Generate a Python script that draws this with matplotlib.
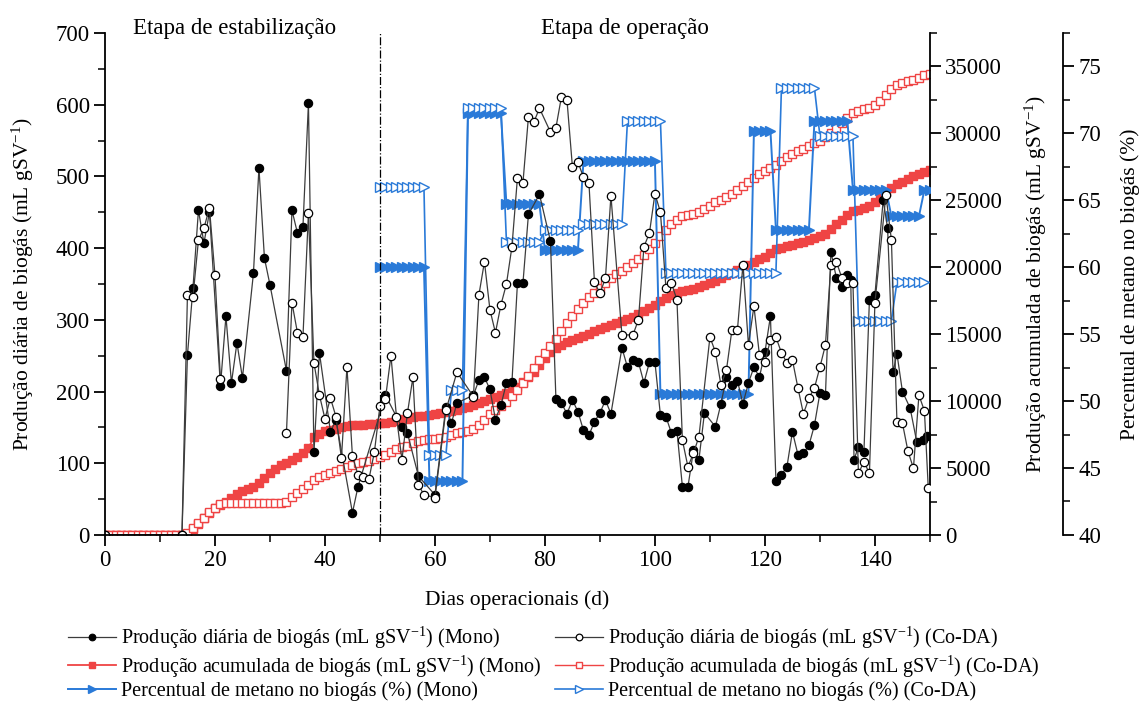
import matplotlib
matplotlib.use('Agg')
import matplotlib.pyplot as plt
import numpy as np
from matplotlib.ticker import MultipleLocator

plt.rcParams['font.family'] = ['Liberation Serif', 'DejaVu Serif']
plt.rcParams['mathtext.fontset'] = 'custom'
plt.rcParams['mathtext.rm'] = 'Liberation Serif'
plt.rcParams['mathtext.it'] = 'Liberation Serif:italic'
plt.rcParams['mathtext.default'] = 'regular'

# ---------------- data ----------------
# Daily biogas production, Mono (filled circles)
mono_daily_days = [0, 14, 15, 16, 17, 18, 19, 21, 22, 23, 24, 25, 27, 28, 29, 30,
                   33, 34, 35, 36, 37, 38, 39, 41, 42, 45, 46, 51, 54, 55, 57, 60,
                   62, 63, 64, 67, 68, 69, 70, 71, 72, 73, 74, 75, 76, 77, 79, 81,
                   82, 83, 84, 85, 86, 87, 88, 89, 90, 91, 92, 94, 95, 96, 97, 98,
                   99, 100, 101, 102, 103, 104, 105, 106, 107, 108, 109, 111, 112,
                   113, 114, 115, 116, 117, 118, 119, 120, 121, 122, 123, 124, 125,
                   126, 127, 128, 129, 130, 131, 132, 133, 134, 135, 135.6, 136.2,
                   137, 138, 139, 140, 141.5, 142.3, 143.3, 144, 145, 146.4, 147.6,
                   148.7, 149.5]
mono_daily = [0, 0, 251, 344, 453, 407, 450, 208, 305, 212, 268, 219, 365, 512, 386, 349,
              229, 453, 421, 430, 602, 115, 254, 144, 160, 31, 67, 195, 150, 142, 82, 56,
              179, 156, 184, 195, 216, 220, 203, 161, 181, 212, 213, 351, 351, 447, 475, 410,
              189, 184, 169, 188, 172, 146, 139, 158, 170, 188, 169, 261, 234, 244, 241, 212,
              241, 241, 167, 165, 142, 145, 67, 67, 118, 105, 170, 151, 183,
              220, 209, 215, 183, 212, 234, 220, 255, 305, 75, 84, 95, 144,
              112, 114, 125, 153, 198, 195, 395, 358, 346, 363, 356, 105,
              123, 116, 328, 335, 467, 428, 227, 253, 200, 177, 130,
              132, 138]

# Daily biogas production, Co-DA (open circles); NaN = no measurement
coda_daily_days = [0, 14, 15, 16, 17, 18, 19, 20, 21, 27, 33, 34, 35, 36, 37, 38, 39, 40,
                   41, 42, 43, 44, 45, 46, 47, 48, 49, 50, 51, 52, 53, 54, 55, 56, 57,
                   58, 60, 62, 64, 67, 68, 69, 70, 71, 72, 73, 74, 75, 76, 77, 78, 79,
                   81, 82, 83, 84, 85, 86, 87, 88, 89, 90, 91, 92, 94, 96, 97, 98, 99,
                   100, 101, 102, 103, 104, 105, 106, 107, 108, 110, 111, 112, 113, 114,
                   115, 116, 117, 118, 119, 120, 121, 122, 123, 124, 125, 126, 127, 128,
                   129, 130, 131, 132, 133, 134, 135, 136, 137, 138, 139, 140, 142, 143,
                   144, 145, 146, 147, 148, 149, 149.7]
coda_daily = [0, 0, 335, 332, 411, 428, 456, 363, 217, np.nan, 142, 324, 282, 276, 449, 240, 195, 162,
              191, 165, 107, 234, 110, 84, 81, 78, 116, 180, 190, 250, 165, 105, 170, 220, 70,
              56, 52, 174, 227, 193, 335, 381, 314, 282, 321, 350, 402, 498, 491, 583, 576, 595,
              562, 568, 611, 607, 513, 520, 499, 491, 353, 337, 358, 473, 279, 279, 300, 402, 421,
              476, 450, 344, 351, 328, 132, 95, 114, 137, 276, 255, 209, 230, 286,
              286, 377, 265, 319, 251, 241, 272, 276, 254, 240, 244, 205, 169, 191,
              205, 234, 265, 377, 381, 358, 351, 351, 86, 102, 86, 324, 474, 411,
              158, 156, 117, 93, 195, 173, 65]

# Cumulative biogas production (one value per day, 0..150)
cum_days = np.arange(0, 151)
cum_mono = [0, 0, 0, 0, 0, 0, 0, 0, 0, 0, 0, 0, 0, 0, 0,
            100, 450, 850, 1250, 1650, 2000, 2250, 2500, 2750, 3050,
            3300, 3450, 3600, 3900, 4250, 4600, 4950, 5200, 5400, 5600,
            5850, 6150, 6500, 7300, 7550, 7750, 7850, 7950, 8050, 8120,
            8180, 8220, 8250, 8270, 8300, 8330, 8370, 8450, 8550, 8650,
            8700, 8780, 8850, 8900, 8960, 9020, 9080, 9150, 9250, 9350,
            9450, 9550, 9700, 9850, 10000, 10150, 10300, 10450, 10600, 10750,
            11050, 11400, 11800, 12200, 12700, 13200, 13700, 14000, 14200, 14400,
            14550, 14750, 14900, 15050, 15200, 15400, 15550, 15700, 15850, 16000,
            16150, 16300, 16500, 16700, 16950, 17200, 17500, 17700, 17900, 18050,
            18200, 18300, 18400, 18550, 18700, 18850, 19000, 19200, 19400, 19600,
            19800, 20000, 20200, 20400, 20600, 20800, 21050, 21350, 21450, 21550,
            21650, 21800, 21900, 22000, 22150, 22300, 22500, 22850, 23200, 23550,
            23900, 24200, 24300, 24400, 24550, 24850, 25200, 25600, 25950, 26200,
            26400, 26600, 26800, 26950, 27100, 27250]
cum_coda = [0, 0, 0, 0, 0, 0, 0, 0, 0, 0, 0, 0, 0, 0, 0,
            150, 500, 900, 1300, 1700, 2050, 2300, 2400, 2400, 2400,
            2400, 2400, 2400, 2400, 2400, 2400, 2400, 2400, 2500, 2800,
            3100, 3400, 3700, 4100, 4300, 4500, 4650, 4800, 4950, 5100,
            5250, 5350, 5450, 5550, 5650, 5800, 6000, 6200, 6400, 6550,
            6650, 6850, 7000, 7100, 7150, 7200, 7280, 7350, 7500, 7600,
            7700, 7800, 7950, 8200, 8600, 9000, 9300, 9600, 9950, 10350,
            10850, 11350, 11900, 12450, 13050, 13600, 14100, 14650, 15250, 15850,
            16350, 16850, 17300, 17750, 18100, 18450, 18800, 19200, 19500, 19750,
            20000, 20300, 20600, 20950, 21350, 21800, 22350, 22800, 23200, 23550,
            23800, 23900, 24000, 24150, 24350, 24600, 24850, 25050, 25250, 25500,
            25800, 26100, 26400, 26700, 26950, 27200, 27400, 27650, 27950, 28200,
            28450, 28650, 28850, 29050, 29250, 29450, 29700, 30000, 30400, 30800,
            31150, 31500, 31700, 31800, 31900, 32100, 32450, 32850, 33300, 33600,
            33750, 33900, 34000, 34150, 34350, 34450]

# Methane content (%)
ch4_mono_days = np.arange(50, 151)
ch4_mono = [60.0, 60.0, 60.0, 60.0, 60.0, 60.0, 60.0, 60.0, 60.0,
            44.0, 44.0, 44.0, 44.0, 44.0, 44.0, 44.0,
            71.5, 71.5, 71.5, 71.5, 71.5, 71.5, 71.5,
            64.7, 64.7, 64.7, 64.7, 64.7, 64.7, 64.7,
            61.3, 61.3, 61.3, 61.3, 61.3, 61.3, 61.3,
            67.9, 67.9, 67.9, 67.9, 67.9, 67.9, 67.9, 67.9, 67.9, 67.9, 67.9, 67.9, 67.9, 67.9,
            50.5, 50.5, 50.5, 50.5, 50.5, 50.5, 50.5, 50.5, 50.5, 50.5, 50.5, 50.5, 50.5,
            50.5, 50.5, 50.5, 50.5,
            70.2, 70.2, 70.2, 70.2,
            62.8, 62.8, 62.8, 62.8, 62.8, 62.8, 62.8,
            70.9, 70.9, 70.9, 70.9, 70.9, 70.9, 70.9,
            65.8, 65.8, 65.8, 65.8, 65.8, 65.8, 65.8,
            63.8, 63.8, 63.8, 63.8, 63.8, 63.8,
            65.8, 65.8]
ch4_coda_days = np.arange(50, 150)
ch4_coda = [66.0, 66.0, 66.0, 66.0, 66.0, 66.0, 66.0, 66.0, 66.0,
            46.0, 46.0, 46.0, 46.0,
            50.8, 50.8, 50.8,
            71.9, 71.9, 71.9, 71.9, 71.9, 71.9, 71.9,
            61.9, 61.9, 61.9, 61.9, 61.9, 61.9, 61.9,
            62.8, 62.8, 62.8, 62.8, 62.8, 62.8, 62.8,
            63.2, 63.2, 63.2, 63.2, 63.2, 63.2, 63.2, 63.2,
            70.9, 70.9, 70.9, 70.9, 70.9, 70.9, 70.9,
            59.6, 59.6, 59.6, 59.6, 59.6, 59.6, 59.6, 59.6, 59.6, 59.6, 59.6,
            59.6, 59.6, 59.6, 59.6, 59.6, 59.6, 59.6, 59.6, 59.6, 59.6,
            73.4, 73.4, 73.4, 73.4, 73.4, 73.4, 73.4,
            69.8, 69.8, 69.8, 69.8, 69.8, 69.8, 69.8,
            56.0, 56.0, 56.0, 56.0, 56.0, 56.0, 56.0,
            58.9, 58.9, 58.9, 58.9, 58.9, 58.9]

labels = ['Produção diária de biogás (mL gSV$^{-1}$) (Mono)',
          'Produção acumulada de biogás (mL gSV$^{-1}$) (Mono)',
          'Percentual de metano no biogás (%) (Mono)',
          'Produção diária de biogás (mL gSV$^{-1}$) (Co-DA)',
          'Produção acumulada de biogás (mL gSV$^{-1}$) (Co-DA)',
          'Percentual de metano no biogás (%) (Co-DA)']

# ---------------- figure ----------------
RED = '#ef4444'
BLUE = '#2a7ad8'
GREY = '#3c3c3c'
TICK_FS = 16.5
LAB_FS = 15.5

fig = plt.figure(figsize=(11.42, 7.08), dpi=100)
ax = fig.add_axes([0.0919, 0.2444, 0.7224, 0.7090])
ax2 = ax.twinx()
ax3 = ax.twinx()
ax3.spines['right'].set_position(('axes', 1.1612))

ax.set_zorder(3)
ax.patch.set_visible(False)
ax2.set_zorder(1)
ax3.set_zorder(2)

# cumulative
l_cm, = ax2.plot(cum_days, cum_mono, '-', color=RED, lw=1.3, marker='s', ms=5.5,
                 mfc=RED, mec=RED, mew=1.0)
l_cc, = ax2.plot(cum_days, cum_coda, '-', color=RED, lw=1.0, marker='s', ms=5.5,
                 mfc='white', mec=RED, mew=1.0)
# methane
l_pm, = ax3.plot(ch4_mono_days, ch4_mono, '-', color=BLUE, lw=1.4, marker='>', ms=6.5,
                 mfc=BLUE, mec=BLUE, mew=1.0)
l_pc, = ax3.plot(ch4_coda_days, ch4_coda, '-', color=BLUE, lw=1.2, marker='>', ms=6.5,
                 mfc='white', mec=BLUE, mew=1.0)
# daily
l_dm, = ax.plot(mono_daily_days, mono_daily, '-', color=GREY, lw=0.9, marker='o', ms=6,
                mfc='black', mec='black', mew=0.8)
l_dc, = ax.plot(coda_daily_days, coda_daily, '-', color=GREY, lw=0.9, marker='o', ms=6,
                mfc='white', mec='black', mew=0.9)

ax.axvline(50, color='black', ls='-.', lw=0.9)

# axes limits / ticks
ax.set_xlim(0, 150)
ax.set_ylim(0, 700)
ax.xaxis.set_major_locator(MultipleLocator(20))
ax.xaxis.set_minor_locator(MultipleLocator(10))
ax.yaxis.set_major_locator(MultipleLocator(100))
ax.yaxis.set_minor_locator(MultipleLocator(50))
ax2.set_ylim(0, 37500)
ax2.yaxis.set_major_locator(MultipleLocator(5000))
ax2.yaxis.set_minor_locator(MultipleLocator(2500))
ax3.set_ylim(40, 77.5)
ax3.yaxis.set_major_locator(MultipleLocator(5))
ax3.yaxis.set_minor_locator(MultipleLocator(2.5))

for a in (ax, ax2, ax3):
    a.tick_params(which='major', direction='out', length=8, width=1.3, labelsize=TICK_FS,
                  pad=3)
    a.tick_params(which='minor', direction='out', length=5, width=1.1)
    for s in a.spines.values():
        s.set_linewidth(1.3)
ax.spines['top'].set_visible(False)
ax.spines['right'].set_visible(False)
for a in (ax2, ax3):
    a.spines['top'].set_visible(False)
    a.spines['left'].set_visible(False)
    a.spines['bottom'].set_visible(False)

ax.set_xlabel('Dias operacionais (d)', fontsize=LAB_FS, labelpad=14)
ax.set_ylabel('Produção diária de biogás (mL gSV$^{-1}$)', fontsize=LAB_FS, labelpad=14)
ax2.set_ylabel('Produção acumulada de biogás (mL gSV$^{-1}$)', fontsize=LAB_FS,
               rotation=90, labelpad=15)
ax3.set_ylabel('Percentual de metano no biogás (%)', fontsize=LAB_FS, rotation=90, labelpad=14)

ax.text(23.6, 706, 'Etapa de estabilização', ha='center', va='center', fontsize=16.5,
        clip_on=False)
ax.text(94.5, 706, 'Etapa de operação', ha='center', va='center', fontsize=16.5,
        clip_on=False)

handles = [l_dm, l_cm, l_pm, l_dc, l_cc, l_pc]
fig.legend(handles, labels, ncol=2, loc='upper left', bbox_to_anchor=(0.0595, 0.117),
           frameon=False, fontsize=14.5, handlelength=2.4, handletextpad=0.25,
           columnspacing=0.65, labelspacing=0.1, borderpad=0, borderaxespad=0,
           numpoints=1, markerscale=0.8)

fig.savefig('out.png', dpi=100)
